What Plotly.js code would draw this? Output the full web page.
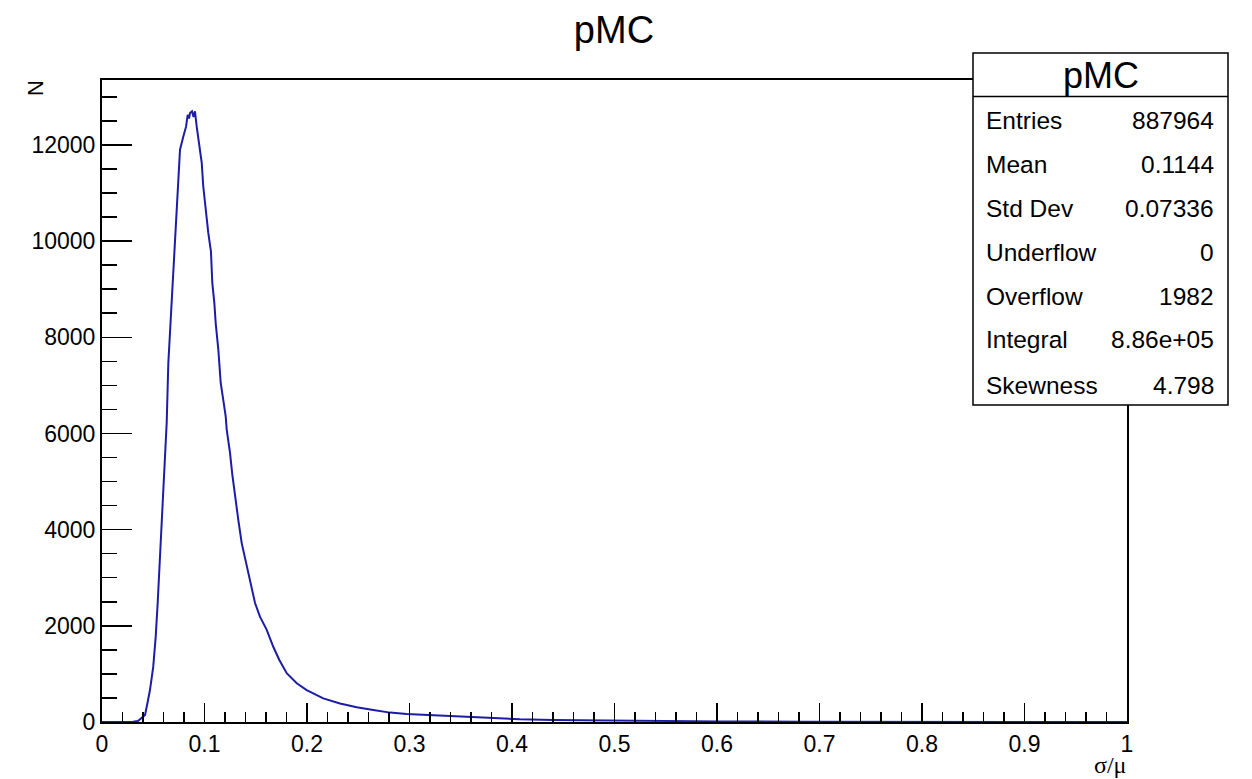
<!DOCTYPE html>
<html>
<head>
<meta charset="utf-8">
<script src="https://cdn.plot.ly/plotly-3.0.1.min.js"></script>
<style>html,body{margin:0;padding:0;background:#fff;}#chart{width:1252px;height:779px;}</style>
</head>
<body>
<div id="chart"></div>
<script>
// ---- data (x = σ/μ, N = counts per bin) ----
var binX = [0, 0.0224, 0.0302, 0.0351, 0.0390, 0.0420, 0.0444, 0.0468, 0.0500, 0.0524, 0.0543,
  0.0559, 0.0576, 0.0592, 0.0608, 0.0631, 0.0647, 0.0663, 0.0680, 0.0696, 0.0705,
  0.0729, 0.0744, 0.0761, 0.0793, 0.0820, 0.0836, 0.0849, 0.0859, 0.0878, 0.0893,
  0.0907, 0.0924, 0.0946, 0.0973, 0.0988, 0.1012, 0.1037, 0.1063, 0.1076, 0.1096,
  0.1109, 0.1135, 0.1158, 0.1183, 0.1207, 0.1217, 0.1249, 0.1271, 0.1298, 0.1330,
  0.1363, 0.1405, 0.1444, 0.1493, 0.1541, 0.1607, 0.1671, 0.1730, 0.1802, 0.1900,
  0.1997, 0.2159, 0.2322, 0.2485, 0.2647, 0.2810, 0.2973, 0.3168, 0.3427, 0.3753,
  0.4078, 0.4400, 0.4732, 0.5054, 0.5444, 0.6029, 0.6810, 0.7785, 0.8761, 1.0];
var binN = [0, 0, 5, 20, 80, 145, 400, 665, 1150, 1775, 2470,
  3160, 3855, 4550, 5100, 6215, 7460, 8090, 8570, 9130, 9700,
  10590, 11270, 11900, 12170, 12380, 12625, 12550, 12665, 12700, 12580,
  12700, 12380, 12040, 11625, 11135, 10650, 10170, 9780, 9130, 8715,
  8300, 7740, 7050, 6700, 6350, 6075, 5595, 5150, 4685, 4200,
  3720, 3305, 2890, 2475, 2190, 1915, 1565, 1290, 1015, 805,
  665, 490, 385, 305, 250, 195, 165, 145, 125, 83,
  56, 42, 35, 27, 20, 12, 7, 3, 1, 0];

var xTickVals = [0, 0.1, 0.2, 0.3, 0.4, 0.5, 0.6, 0.7, 0.8, 0.9, 1];
var xTickText = ["0", "0.1", "0.2", "0.3", "0.4", "0.5", "0.6", "0.7", "0.8", "0.9", "1"];
var yTickVals = [0, 2000, 4000, 6000, 8000, 10000, 12000];
var yTickText = ["0", "2000", "4000", "6000", "8000", "10000", "12000"];

var histTitle = "pMC";
var xTitle = "σ/μ";
var yTitle = "N";
var statsLabels = ["Entries", "Mean", "Std Dev", "Underflow", "Overflow", "Integral", "Skewness"];
var statsValues = ["887964", "0.1144", "0.07336", "0", "1982", "8.86e+05", "4.798"];

// ---- layout helpers (pixel -> paper) ----
var L = 102, R = 1127, T = 80, B = 722;
function px(x) { return (x - L) / (R - L); }
function py(y) { return (B - y) / (B - T); }
var FONT = "Liberation Sans, Arial, Helvetica, sans-serif";

var trace = {
  x: binX, y: binN, type: "scatter", mode: "lines",
  line: {shape: "linear", color: "#1c1ca8", width: 2},
  hoverinfo: "x+y"
};

var shapes = [
  {type: "rect", xref: "paper", yref: "paper", x0: px(973), x1: px(1228), y0: py(405), y1: py(53),
   line: {color: "black", width: 1.5}, fillcolor: "white", layer: "above"},
  {type: "line", xref: "paper", yref: "paper", x0: px(973), x1: px(1228), y0: py(96.5), y1: py(96.5),
   line: {color: "black", width: 1.5}, layer: "above"}
];

var rowY = [121, 164, 209, 253, 296, 339, 385];
var annotations = [
  {text: histTitle, xref: "paper", yref: "paper", x: px(1100.5), y: py(75), xanchor: "center", yanchor: "middle",
   showarrow: false, font: {family: FONT, size: 36, color: "black"}},
  {text: yTitle, xref: "paper", yref: "paper", x: px(35), y: py(88), xanchor: "center", yanchor: "middle",
   textangle: -90, showarrow: false, font: {family: FONT, size: 22, color: "black"}},
  {text: xTitle, xref: "paper", yref: "paper", x: px(1128), y: py(765), xanchor: "right", yanchor: "middle",
   showarrow: false, font: {family: "Liberation Serif, Times New Roman, serif", size: 24, color: "black"}}
];
for (var i = 0; i < statsLabels.length; i++) {
  annotations.push({text: statsLabels[i], xref: "paper", yref: "paper", x: px(984), y: py(rowY[i]),
    xanchor: "left", yanchor: "middle", showarrow: false, font: {family: FONT, size: 24.5, color: "black"}});
  annotations.push({text: statsValues[i], xref: "paper", yref: "paper", x: px(1216), y: py(rowY[i]),
    xanchor: "right", yanchor: "middle", showarrow: false, font: {family: FONT, size: 24.5, color: "black"}});
}

var layout = {
  width: 1252, height: 779,
  margin: {l: L, r: 1252 - R, t: T, b: 779 - B, pad: 0},
  paper_bgcolor: "white", plot_bgcolor: "white",
  showlegend: false,
  title: {text: histTitle, x: 0.4904, xref: "container", y: 1 - 30 / 779, yref: "container",
          xanchor: "center", yanchor: "middle", font: {family: FONT, size: 38, color: "black"}},
  xaxis: {
    range: [0, 1], tickmode: "array", tickvals: xTickVals, ticktext: xTickText,
    ticks: "inside", ticklen: 19, tickwidth: 1.5, tickcolor: "black",
    minor: {dtick: 0.02, ticks: "inside", ticklen: 10, tickwidth: 1.5, tickcolor: "black", showgrid: false},
    showline: true, linecolor: "black", linewidth: 2, mirror: true,
    showgrid: false, zeroline: false, automargin: false,
    tickfont: {family: FONT, size: 23, color: "black"}
  },
  yaxis: {
    range: [0, 13350], tickmode: "array", tickvals: yTickVals, ticktext: yTickText,
    ticks: "inside", ticklen: 30, tickwidth: 1.5, tickcolor: "black",
    minor: {dtick: 500, ticks: "inside", ticklen: 15, tickwidth: 1.5, tickcolor: "black", showgrid: false},
    showline: true, linecolor: "black", linewidth: 2, mirror: true,
    showgrid: false, zeroline: false, automargin: false,
    tickfont: {family: FONT, size: 23, color: "black"}
  },
  shapes: shapes,
  annotations: annotations
};

Plotly.newPlot("chart", [trace], layout, {displayModeBar: false, staticPlot: true});
</script>
</body>
</html>
